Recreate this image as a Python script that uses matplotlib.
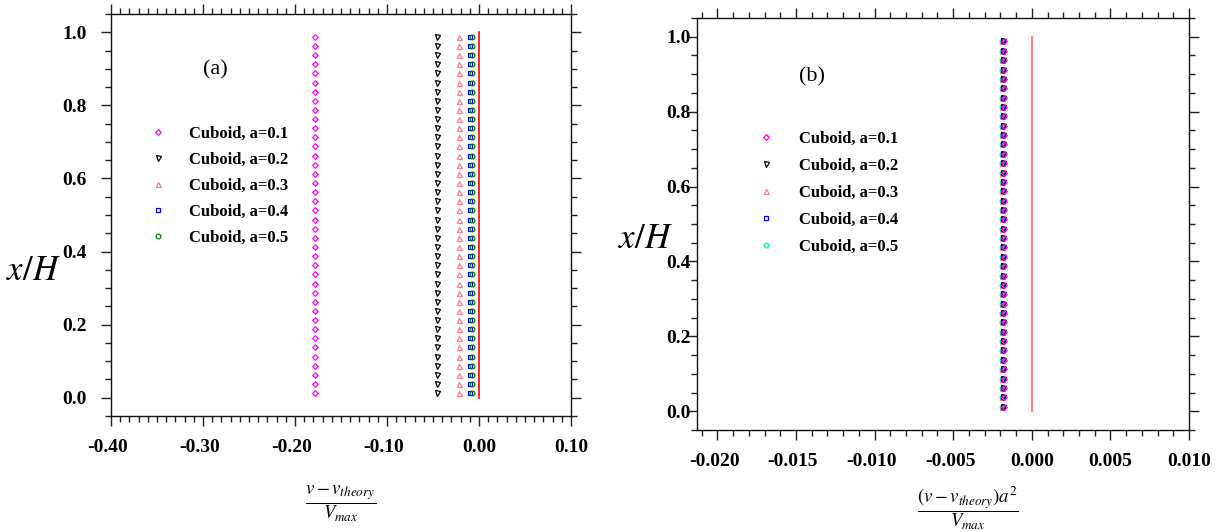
import matplotlib
matplotlib.use('Agg')
import matplotlib.pyplot as plt
from matplotlib.ticker import MultipleLocator, FormatStrFormatter
import matplotlib.transforms as mtransforms

plt.rcParams['font.family'] = ['Liberation Serif', 'DejaVu Serif']
plt.rcParams['mathtext.fontset'] = 'stix'
plt.rcParams['axes.unicode_minus'] = False

# ---- data ----
x_over_H = [0.0125, 0.0375, 0.0625, 0.0875, 0.1125, 0.1375, 0.1625, 0.1875,
            0.2125, 0.2375, 0.2625, 0.2875, 0.3125, 0.3375, 0.3625, 0.3875,
            0.4125, 0.4375, 0.4625, 0.4875, 0.5125, 0.5375, 0.5625, 0.5875,
            0.6125, 0.6375, 0.6625, 0.6875, 0.7125, 0.7375, 0.7625, 0.7875,
            0.8125, 0.8375, 0.8625, 0.8875, 0.9125, 0.9375, 0.9625, 0.9875]
series_labels = ['Cuboid, a=0.1', 'Cuboid, a=0.2', 'Cuboid, a=0.3',
                 'Cuboid, a=0.4', 'Cuboid, a=0.5']
dev_a = [-0.178, -0.0453, -0.0214, -0.0098, -0.0076]      # (v - v_theory)/Vmax
dev_b = [-0.00180, -0.00183, -0.00188, -0.00185, -0.00190]  # (v - v_theory) a^2 / Vmax
theory_x = [0.0, 0.0]
theory_y = [0.0, 1.0]

markers = ['D', 'v', '^', 's', 'o']
colors_a = ['#ff00ff', '#000000', '#ff7f7f', '#0000ff', '#008000']
colors_b = ['#ff00ff', '#000000', '#ff7f7f', '#0000ff', '#00ff7f']
marker_sizes = [2.9, 3.6, 3.6, 3.4, 3.4]
zorders_b = [6, 5, 3, 4, 2]

fig = plt.figure(figsize=(12.28, 5.32), dpi=100)
ax_a = fig.add_axes([111 / 1228, 1 - 416 / 532, 460 / 1228, 402 / 532])
ax_b = fig.add_axes([697 / 1228, 1 - 430 / 532, 492 / 1228, 412 / 532])


def style_axes(ax, xmaj, xmin, xfmt, ypad):
    ax.set_ylim(-0.05, 1.05)
    ax.xaxis.set_major_locator(MultipleLocator(xmaj))
    ax.xaxis.set_minor_locator(MultipleLocator(xmin))
    ax.yaxis.set_major_locator(MultipleLocator(0.2))
    ax.yaxis.set_minor_locator(MultipleLocator(0.05))
    ax.xaxis.set_major_formatter(FormatStrFormatter(xfmt))
    ax.yaxis.set_major_formatter(FormatStrFormatter('%.1f'))
    ax.tick_params(which='both', direction='out', top=True, right=True,
                   bottom=True, left=True, labeltop=False, labelright=False,
                   width=1.0, color='#222222')
    ax.tick_params(which='major', length=7.5, labelsize=14)
    ax.tick_params(axis='x', which='major', pad=9)
    ax.tick_params(axis='y', which='major', pad=ypad)
    ax.tick_params(which='minor', length=4.3)
    for s in ax.spines.values():
        s.set_linewidth(1.0)
        s.set_color('#111111')


legend_font = {'family': ['Liberation Serif', 'DejaVu Serif'],
               'weight': 'bold', 'size': 12}

# ---- panel (a) ----
for v, m, c, ms, lab in zip(dev_a, markers, colors_a, marker_sizes, series_labels):
    ax_a.plot([v] * len(x_over_H), x_over_H, linestyle='none', marker=m,
              mfc='none', mec=c, ms=ms, mew=0.9, label=lab)
ax_a.plot(theory_x, theory_y, color='#ff0000', lw=1.2)
ax_a.set_xlim(-0.40, 0.10)
style_axes(ax_a, 0.1, 0.01, '%.2f', 10)
ax_a.legend(loc='upper left', bbox_to_anchor=(0.065, 0.742), frameon=False,
            borderpad=0, handlelength=1.0, handletextpad=1.38,
            labelspacing=0.60, prop=legend_font)
ax_a.text(0.226, 0.862, '(a)', transform=ax_a.transAxes, ha='center',
          va='center', fontsize=16)
ax_a.set_xlabel(r'$\dfrac{v - v_{theory}}{V_{max}}$', fontsize=13.5)
ax_a.xaxis.set_label_coords(0.5, -0.170)
ax_a.set_ylabel(r'$x/H$', rotation=0, fontsize=25, ha='center', va='center')
ax_a.yaxis.set_label_coords(-0.168, 0.36)

# ---- panel (b) ----
for v, m, c, ms, lab, z in zip(dev_b, markers, colors_b, marker_sizes,
                               series_labels, zorders_b):
    ax_b.plot([v] * len(x_over_H), x_over_H, linestyle='none', marker=m,
              mfc='none', mec=c, ms=ms, mew=0.9, label=lab, zorder=z)
ax_b.plot(theory_x, theory_y, color='#ff6666', lw=1.2)
ax_b.set_xlim(-0.0213, 0.010)
style_axes(ax_b, 0.005, 0.001, '%.3f', -3)
ax_b.legend(loc='upper left', bbox_to_anchor=(0.106, 0.747), frameon=False,
            borderpad=0, handlelength=1.0, handletextpad=1.5,
            labelspacing=0.67, prop=legend_font)
ax_b.text(0.234, 0.857, '(b)', transform=ax_b.transAxes, ha='center',
          va='center', fontsize=16)
ax_b.set_xlabel(r'$\dfrac{(v - v_{theory})a^2}{V_{max}}$', fontsize=13.5)
ax_b.xaxis.set_label_coords(0.551, -0.132)
ax_b.set_ylabel(r'$x/H$', rotation=0, fontsize=25, ha='center', va='center')
ax_b.yaxis.set_label_coords(-0.104, 0.462)

fig.canvas.draw()
# bold tick labels, and centre the digits (not the minus sign) of negative labels
shift = mtransforms.ScaledTranslation(-3.2 / 100, 0, fig.dpi_scale_trans)
for ax in (ax_a, ax_b):
    for lbl in ax.get_xticklabels() + ax.get_yticklabels():
        lbl.set_fontweight('bold')
    for tick in ax.xaxis.get_major_ticks():
        if tick.get_loc() < -1e-12:
            tick.label1.set_transform(tick.label1.get_transform() + shift)

fig.savefig('out.png', dpi=100)
